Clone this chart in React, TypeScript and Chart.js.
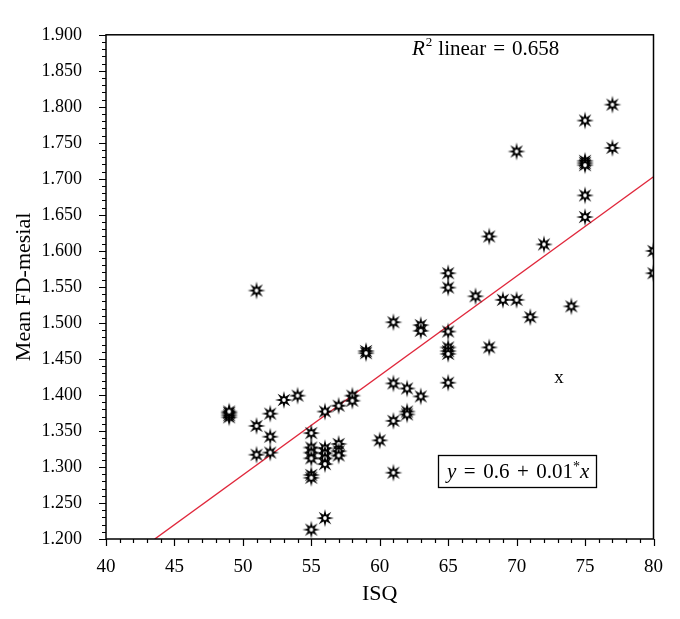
import React, { useEffect, useRef } from "react";
import { Chart, registerables } from "chart.js";

Chart.register(...registerables);

// ISQ values (x) and Mean FD-mesial values (y)
const isq: number[] = [
  49, 49, 49, 49,
  51, 51, 51,
  52, 52, 52,
  53, 54,
  55, 55, 55, 55, 55, 55, 55,
  56, 56, 56, 56, 56, 56,
  57, 57, 57, 57,
  58, 58,
  59, 59,
  60,
  61, 61, 61, 61,
  62, 62, 62,
  63, 63, 63,
  65, 65, 65, 65, 65, 65, 65,
  67,
  68, 68,
  69,
  70, 70,
  71, 72, 74,
  75, 75, 75, 75, 75, 75,
  77, 77,
  80, 80,
];
const fdMesial: number[] = [
  1.369, 1.372, 1.375, 1.377,
  1.545, 1.357, 1.317,
  1.374, 1.342, 1.320,
  1.393, 1.399,
  1.347, 1.327, 1.320, 1.312, 1.289, 1.285, 1.213,
  1.377, 1.326, 1.319, 1.312, 1.304, 1.229,
  1.385, 1.332, 1.322, 1.316,
  1.399, 1.392,
  1.461, 1.458,
  1.337,
  1.501, 1.416, 1.364, 1.292,
  1.409, 1.377, 1.373,
  1.497, 1.489, 1.398,
  1.569, 1.549, 1.488, 1.466, 1.461, 1.457, 1.417,
  1.537,
  1.620, 1.466,
  1.532,
  1.738, 1.532,
  1.508, 1.609, 1.523,
  1.781, 1.725, 1.722, 1.719, 1.677, 1.647,
  1.803, 1.743,
  1.600, 1.569,
];

// Fit line end points
const fitX: number[] = [43.56, 80];
const fitY: number[] = [1.2, 1.703];

// Stray "x" mark
const markX = 73.1;
const markY = 1.421;

const xTickMin = 40;
const xTickMax = 80;
const yTickMin = 1.2;
const yTickMax = 1.9;

const rSquaredText = "0.658";
const eqIntercept = "0.6";
const eqSlope = "0.01";

const FONT = "'Liberation Serif', 'DejaVu Serif', serif";

function makeStar(): HTMLCanvasElement {
  const c = document.createElement("canvas");
  const s = 20;
  c.width = s;
  c.height = s;
  const g = c.getContext("2d")!;
  const cx = s / 2, cy = s / 2, R = 9, r = 3.4, n = 8;
  g.beginPath();
  for (let k = 0; k < 2 * n; k++) {
    const a = -Math.PI / 2 + (k * Math.PI) / n;
    const rad = k % 2 === 0 ? R : r;
    g.lineTo(cx + rad * Math.cos(a), cy + rad * Math.sin(a));
  }
  g.closePath();
  g.fillStyle = "#000";
  g.fill();
  g.beginPath();
  g.arc(cx, cy, 3.6, 0, Math.PI * 2);
  g.fillStyle = "#000";
  g.fill();
  g.beginPath();
  g.arc(cx, cy, 1.9, 0, Math.PI * 2);
  g.fillStyle = "#fff";
  g.fill();
  return c;
}

const decorPlugin = {
  id: "decor",
  afterDraw(chart: any) {
    const ctx: CanvasRenderingContext2D = chart.ctx;
    const { left, right, top, bottom } = chart.chartArea;
    const xs = chart.scales.x;
    const ys = chart.scales.y;
    ctx.save();
    ctx.strokeStyle = "#000";
    ctx.lineWidth = 1.5;
    ctx.strokeRect(left, top, right - left, bottom - top);

    // minor & major ticks
    ctx.lineWidth = 1.2;
    ctx.beginPath();
    for (let i = Math.round(yTickMin * 100); i <= Math.round(yTickMax * 100); i++) {
      const py = Math.round(ys.getPixelForValue(i / 100)) + 0.5;
      const len = i % 5 === 0 ? 7 : 4;
      ctx.moveTo(left, py);
      ctx.lineTo(left - len, py);
    }
    for (let i = xTickMin; i <= xTickMax; i++) {
      const px = Math.round(xs.getPixelForValue(i)) + 0.5;
      const len = i % 5 === 0 ? 7 : 4;
      ctx.moveTo(px, bottom);
      ctx.lineTo(px, bottom + len);
    }
    ctx.stroke();

    ctx.fillStyle = "#000";
    // axis titles
    ctx.font = `22px ${FONT}`;
    ctx.textAlign = "center";
    ctx.textBaseline = "middle";
    ctx.fillText("ISQ", (left + right) / 2, 594);
    ctx.save();
    ctx.translate(24, (top + bottom) / 2);
    ctx.rotate(-Math.PI / 2);
    ctx.fillText("Mean FD-mesial", 0, 0);
    ctx.restore();

    // stray x mark
    ctx.font = `19px ${FONT}`;
    ctx.fillText("x", xs.getPixelForValue(markX), ys.getPixelForValue(markY) - 2);

    // R^2 text
    ctx.textAlign = "left";
    ctx.textBaseline = "alphabetic";
    let x = 412;
    const by = 55;
    ctx.font = `italic 21px ${FONT}`;
    ctx.fillText("R", x, by);
    x += ctx.measureText("R").width + 1;
    ctx.font = `13px ${FONT}`;
    ctx.fillText("2", x, by - 9);
    x += ctx.measureText("2").width + 6;
    ctx.font = `21px ${FONT}`;
    ctx.fillText("linear", x, by);
    x += ctx.measureText("linear").width + 7;
    ctx.fillText("=", x, by);
    x += ctx.measureText("=").width + 7;
    ctx.fillText(rSquaredText, x, by);

    // equation box
    ctx.lineWidth = 1.3;
    ctx.strokeRect(438.5, 455.5, 158, 32);
    let ex = 447;
    const eby = 478;
    const gap = 7.5;
    ctx.font = `italic 21px ${FONT}`;
    ctx.fillText("y", ex, eby);
    ex += ctx.measureText("y").width + gap;
    ctx.font = `21px ${FONT}`;
    ctx.fillText("=", ex, eby);
    ex += ctx.measureText("=").width + gap;
    ctx.fillText(eqIntercept, ex, eby);
    ex += ctx.measureText(eqIntercept).width + gap;
    ctx.fillText("+", ex, eby);
    ex += ctx.measureText("+").width + gap;
    ctx.fillText(eqSlope, ex, eby);
    ex += ctx.measureText(eqSlope).width;
    ctx.font = `14px ${FONT}`;
    ctx.fillText("*", ex, eby - 7);
    ex += ctx.measureText("*").width;
    ctx.font = `italic 21px ${FONT}`;
    ctx.fillText("x", ex, eby);
    ctx.restore();
  },
};

export default function App() {
  const ref = useRef<HTMLCanvasElement | null>(null);
  useEffect(() => {
    document.body.style.margin = "0";
    const canvas = ref.current!;
    const star = makeStar();
    const points = isq.map((v, i) => ({ x: v, y: fdMesial[i] }));
    const fit = fitX.map((v, i) => ({ x: v, y: fitY[i] }));
    const chart = new Chart(canvas, {
      type: "scatter",
      data: {
        datasets: [
          {
            label: "fit",
            data: fit,
            showLine: true,
            borderColor: "#e0283c",
            borderWidth: 1.4,
            pointRadius: 0,
            order: 2,
          } as any,
          {
            label: "points",
            data: points,
            pointStyle: star as any,
            pointRadius: 10,
            order: 1,
          },
        ],
      },
      options: {
        animation: false,
        responsive: false,
        events: [],
        layout: { padding: { left: 0, right: 23, top: 22, bottom: 0 } },
        plugins: {
          legend: { display: false },
          tooltip: { enabled: false },
          title: { display: false },
        },
        scales: {
          x: {
            type: "linear",
            min: xTickMin,
            max: xTickMax,
            grid: { display: false, drawTicks: false },
            border: { display: false },
            ticks: {
              stepSize: 5,
              padding: 17,
              color: "#000",
              font: { family: FONT, size: 19 },
              maxRotation: 0,
            },
            afterFit: (s: any) => {
              s.height = 80;
            },
          },
          y: {
            type: "linear",
            min: yTickMin,
            max: yTickMax,
            grid: { display: false, drawTicks: false },
            border: { display: false },
            ticks: {
              stepSize: 0.05,
              padding: 24,
              color: "#000",
              font: { family: FONT, size: 18 },
              callback: (v: any) => Number(v).toFixed(3),
            },
            afterFit: (s: any) => {
              s.width = 106;
            },
          },
        },
      },
      plugins: [decorPlugin],
    });
    return () => chart.destroy();
  }, []);
  return <canvas ref={ref} width={680} height={619} style={{ display: "block" }} />;
}
